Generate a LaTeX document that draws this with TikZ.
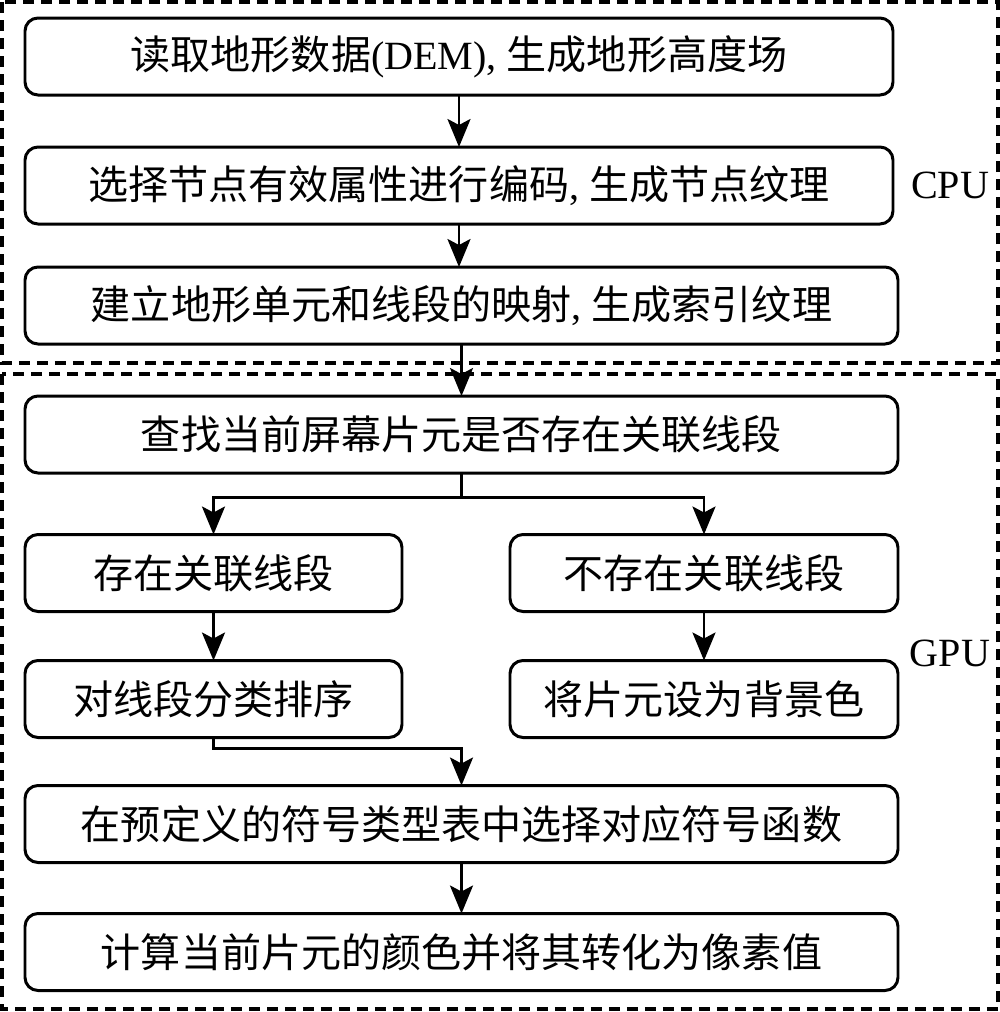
\documentclass[tikz,border=0pt]{standalone}
\usepackage{fontspec}
\setmainfont{Liberation Serif}
\newfontfamily\cjk{Noto Sans CJK SC}
\usepackage{tikz}
\usetikzlibrary{arrows.meta, positioning}

\begin{document}
\begin{tikzpicture}[
  box/.style={draw, line width=0.85pt, rounded corners=1.3mm, minimum width=8.73cm, minimum height=0.77cm, inner sep=0pt, outer sep=0pt, align=center, font=\fontsize{11.4}{13}\selectfont},
  half/.style={box, minimum width=3.77cm},
  frame/.style={draw, line width=1.3pt, dash pattern=on 1.1mm off 0.7mm},
  lbl/.style={font=\fontsize{11.4}{13}\selectfont},
  >={Stealth[length=2.8mm, width=2.3mm, inset=0.6mm]}, line width=0.85pt
]
\useasboundingbox (0,0) rectangle (10,-10.12);

% CPU
\node[box, minimum width=8.68cm] (dem) at (4.59,-0.565) {{\cjk 读取地形数据}(DEM), {\cjk 生成地形高度场}};
\node[box, minimum width=8.68cm, below=0.52cm of dem] (node) {{\cjk 选择节点有效属性进行编码}, {\cjk 生成节点纹理}};
\node[box, below=0.43cm of node.south west, anchor=north west] (idx) {{\cjk 建立地形单元和线段的映射}, {\cjk 生成索引纹理}};

% GPU
\node[box, below=0.52cm of idx] (find) {\cjk 查找当前屏幕片元是否存在关联线段};
\node[half, below=0.615cm of find.south west, anchor=north west] (yes) {\cjk 存在关联线段};
\node[half, minimum width=3.88cm, right=1.08cm of yes] (no) {\cjk 不存在关联线段};
\node[half, below=0.49cm of yes] (sort) {\cjk 对线段分类排序};
\node[half, minimum width=3.88cm, below=0.49cm of no] (bg) {\cjk 将片元设为背景色};
\node[box, below=0.48cm of sort.south west, anchor=north west] (sym) {\cjk 在预定义的符号类型表中选择对应符号函数};
\node[box, below=0.51cm of sym] (pix) {\cjk 计算当前片元的颜色并将其转化为像素值};

\draw[frame] (0.02,-0.02) rectangle (9.98,-3.63);
\draw[frame] (0.02,-3.74) rectangle (9.98,-10.09);
\node[lbl] (cpu) at (9.50,-1.85) {CPU};
\node[lbl] (gpu) at (9.50,-6.53) {GPU};

\draw[->] (dem) -- (node);
\draw[->] (node.south) -- (node.south |- idx.north);
\draw[->] (idx) -- (find);
\draw[->] (find.south) -- ++(0,-0.24) -| (yes.north);
\draw[->] (find.south) -- ++(0,-0.24) -| (no.north);
\draw[->] (yes) -- (sort);
\draw[->] (no) -- (bg);
\draw[->] (sort.south) -- ++(0,-0.11) -| (sym.north);
\draw[->] (sym) -- (pix);
\end{tikzpicture}
\end{document}
